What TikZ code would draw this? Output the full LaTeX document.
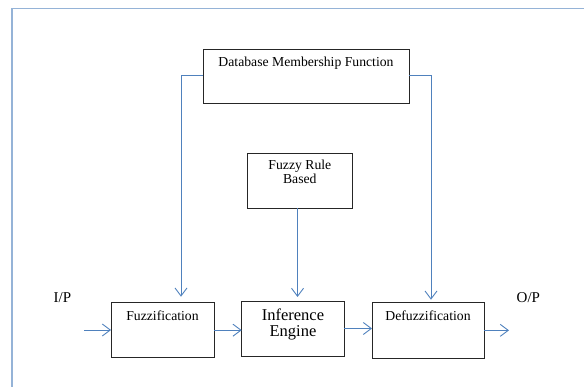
\documentclass[tikz,border=0pt]{standalone}
\usepackage{fontspec}
\setmainfont{Liberation Serif}
\newfontfamily\diagfont{Liberation Serif}
\usetikzlibrary{arrows.meta,calc}
\definecolor{flowColor}{RGB}{79,129,189}
\definecolor{frameColor}{RGB}{149,179,215}
\tikzset{
	block/.style={draw=black!85, line width=0.9pt, inner sep=0, outer sep=0,
		anchor=north west, font=\diagfont\fontsize{13.7}{14}\selectfont},
	flow/.style={draw=flowColor, line width=0.9pt,
		-{Straight Barb[length=8pt,width=12pt]}},
	io/.style={anchor=base west, inner sep=0, font=\diagfont\fontsize{15}{18}\selectfont}
}
\begin{document}
\begin{tikzpicture}[x=1pt, y=-1pt]
	\useasboundingbox (0,0) rectangle (584,387);
	\draw[frameColor, line width=1.6pt] (12,387) -- (12,8.7) -- (584,8.7);
	
	\node[block, minimum width=206pt, text height=17.5pt, text depth=36.5pt] (db) at (203,49) {Database Membership Function};
	\node[block, minimum width=104.3pt, text height=16pt, text depth=39pt] (rule) at (247.7,153.3) {\begin{tabular}[t]{@{}c@{}} Fuzzy Rule \\ Based \end{tabular}};
	\node[block, minimum width=103pt, text height=17.5pt, text depth=37.5pt] (fuzz) at (111,302.7) {Fuzzification};
	\node[block, minimum width=102.6pt, text height=20pt, text depth=35pt, font=\diagfont\fontsize{16.5}{14.7}\selectfont] (infer) at (241.7,301) {\begin{tabular}[t]{@{}c@{}} Inference \\ Engine \end{tabular}};
	\node[block, minimum width=112pt, text height=17.5pt, text depth=37.8pt] (defuzz) at (372,302.7) {Defuzzification};
	
	\node[io] (ip) at (53.5,303) {I/P};
	\node[io] (op) at (516.5,303) {O/P};
	
	\coordinate (in) at (84,330);
	\coordinate (out) at (509,330);
	\coordinate (dbl) at (181,75);
	\coordinate (dbr) at (431,75);
	\coordinate (rx) at (297.5,0);
	
	\draw[flow] (in) -- (fuzz.west |- in);
	\draw[flow] (fuzz.east) -- (fuzz.east -| infer.west);
	\draw[flow] (infer.east) -- (infer.east -| defuzz.west);
	\draw[flow] (defuzz.east) -- (defuzz.east -| out);
	\draw[flow, shorten >=6pt] (db.west |- dbl) -- (dbl) -- (dbl |- fuzz.north);
	\draw[flow, shorten >=3pt] (db.east |- dbr) -- (dbr) -- (dbr |- defuzz.north);
	\draw[flow, shorten >=4pt] (rule.south -| rx) -- (infer.north -| rx);
\end{tikzpicture}
\end{document}
